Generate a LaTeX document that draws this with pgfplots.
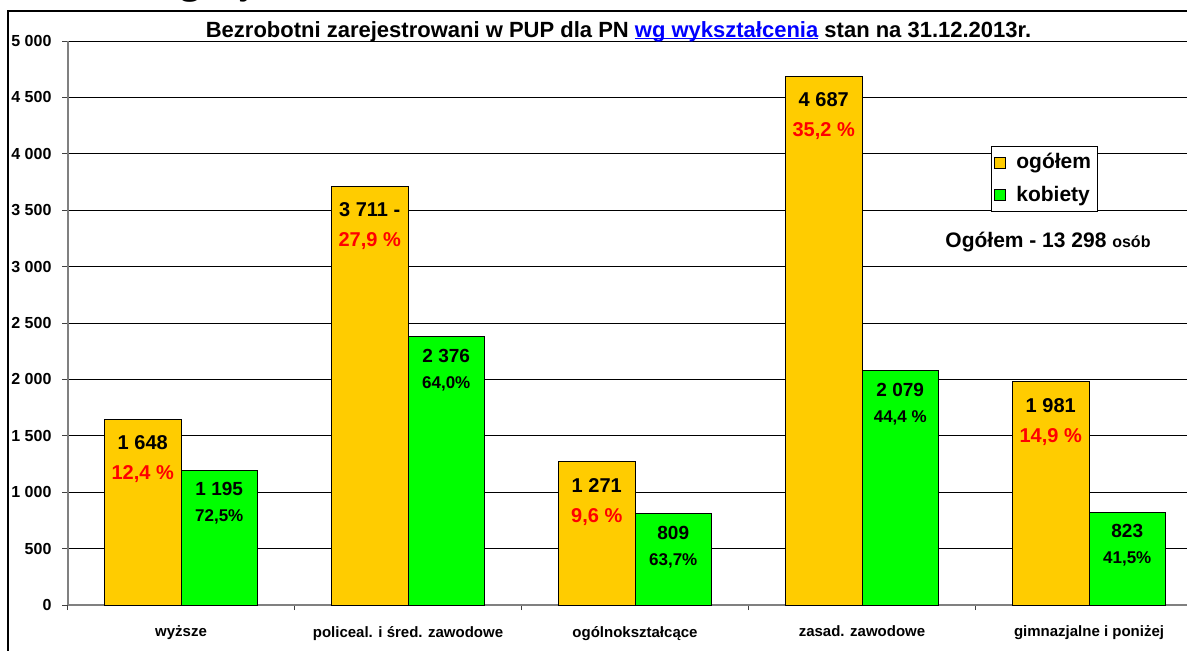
\documentclass[border=0pt]{standalone}
\usepackage{pgfplots}
\pgfplotsset{compat=1.18}
\usepackage{fontspec}
\setmainfont{Liberation Sans}
\newfontfamily\serifbf{Liberation Serif}
\definecolor{orangebar}{HTML}{FFCC00}
\definecolor{greenbar}{HTML}{00FF00}
\definecolor{titleblue}{HTML}{0000FF}
\definecolor{axisgray}{HTML}{808080}
\newcommand\ul[1]{\setbox0\hbox{#1}\rlap{\rule[-1pt]{\wd0}{0.5pt}}\box0}
\def\lblOa{1 648\\\textcolor{red}{12,4 \%}}
\def\lblOb{3 711 -\\\textcolor{red}{27,9 \%}}
\def\lblOc{1 271\\\textcolor{red}{9,6 \%}}
\def\lblOd{4 687\\\textcolor{red}{35,2 \%}}
\def\lblOe{1 981\\\textcolor{red}{14,9 \%}}
\def\lblGa{1 195\\{\fontsize{8.5}{13}\selectfont 72,5\%}}
\def\lblGb{2 376\\{\fontsize{8.5}{13}\selectfont 64,0\%}}
\def\lblGc{809\\{\fontsize{8.5}{13}\selectfont 63,7\%}}
\def\lblGd{2 079\\{\fontsize{8.5}{13}\selectfont 44,4 \%}}
\def\lblGe{823\\{\fontsize{8.5}{13}\selectfont 41,5\%}}
\pgfplotsset{sqlegend/.style={legend image code/.code={\draw[##1, draw=black, line width=0.4pt] (0pt,-2.75pt) rectangle (5.5pt,2.75pt);}}}
\begin{document}
\begin{tikzpicture}
\useasboundingbox (0,0) rectangle (593.5pt,325pt);
\clip (0,0) rectangle (593.5pt,325pt);
\begin{axis}[
 at={(33.75pt,22.5pt)}, anchor=south west,
 scale only axis, width=567.5pt, height=282pt,
 xmin=-0.5, xmax=4.5, ymin=0, ymax=5000,
 axis lines*=left,
 axis line style={draw=axisgray, line width=1pt},
 ybar=0pt, bar width=38.25pt,
 ytick={0,500,...,5000},
 yticklabels={0,500,1 000,1 500,2 000,2 500,3 000,3 500,4 000,4 500,5 000},
 xtick={-0.5,0.5,1.5,2.5,3.5,4.5}, xticklabels={},
 extra x ticks={0,1,2,3,4},
 extra x tick labels={wyższe,policeal. i śred. zawodowe,ogólnokształcące,zasad. zawodowe,gimnazjalne i poniżej},
 extra x tick style={major tick length=0pt, grid=none},
 tick align=outside, major tick length=2.5pt,
 tick style={draw=black!75, line width=0.5pt},
 ymajorgrids, grid style={draw=black, line width=0.5pt},
 yticklabel style={font=\fontsize{8}{10}\selectfont\bfseries, xshift=-2pt},
 xticklabel style={font=\fontsize{7.5}{9}\selectfont\bfseries, yshift=-7pt},
 point meta=explicit symbolic,
 nodes near coords={\csname lbl\pgfplotspointmeta\endcsname},
 legend style={at={(0.8137,0.8138)}, anchor=north west, draw=black, line width=0.5pt, fill=white, font=\fontsize{10.5}{12}\selectfont\bfseries, inner xsep=1pt, inner ysep=1.5pt, row sep=3pt, cells={anchor=west}},
]
\addplot[fill=orangebar, draw=black, line width=0.5pt, sqlegend,
 every node near coord/.append style={anchor=north, yshift=-8pt, inner sep=0pt, align=center, font=\fontsize{10}{15}\selectfont\bfseries, text=black}]
 coordinates {(0,1648)[Oa] (1,3711)[Ob] (2,1271)[Oc] (3,4687)[Od] (4,1981)[Oe]};
\addlegendentry{\hspace{3.5pt}ogółem\hspace{15pt}}
\addplot[fill=greenbar, draw=black, line width=0.5pt, sqlegend,
 every node near coord/.append style={anchor=north, yshift=-6pt, inner sep=0pt, align=center, font=\fontsize{9.5}{13}\selectfont\bfseries, text=black}]
 coordinates {(0,1195)[Ga] (1,2376)[Gb] (2,809)[Gc] (3,2079)[Gd] (4,823)[Ge]};
\addlegendentry{\hspace{3.5pt}kobiety\hspace{15pt}}
\end{axis}
\begin{scope}[x=0.5pt,y=-0.5pt,yshift=325pt]
 \draw[line width=0.75pt] (8,700) -- (8,11) -- (1250,11);
 \node[anchor=base, font=\fontsize{11}{13}\selectfont\bfseries, inner sep=0pt] at (618.5,37) {Bezrobotni zarejestrowani w PUP dla PN \textcolor{titleblue}{\ul{wg wykształcenia}} stan na 31.12.2013r.};
 \node[anchor=base west, inner sep=0pt, font=\fontsize{10.5}{12}\selectfont\bfseries] at (945,247) {Ogółem - 13 298 {\fontsize{8}{9}\selectfont osób}};
 \node[anchor=base west, inner sep=0pt, font=\serifbf\bfseries\fontsize{20}{24}\selectfont] at (151,-6) {wg wy};
\end{scope}
\end{tikzpicture}
\end{document}
